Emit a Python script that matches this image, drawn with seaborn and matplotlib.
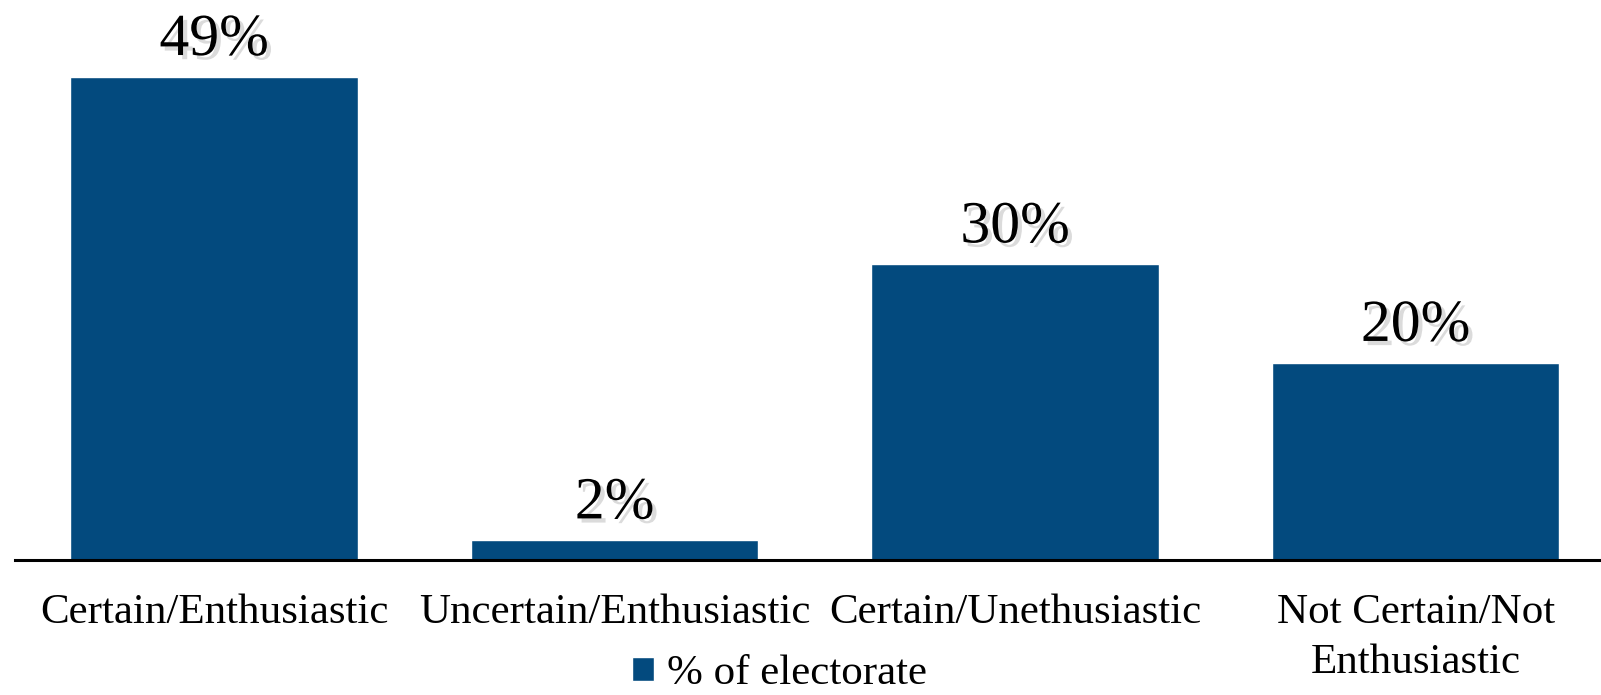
import matplotlib
matplotlib.use("Agg")
import matplotlib.pyplot as plt
import matplotlib.patheffects as pe
import seaborn as sns
import pandas as pd

# datos del grafico
categorias = ["Certain/Enthusiastic", "Uncertain/Enthusiastic",
              "Certain/Unethusiastic", "Not Certain/Not\nEnthusiastic"]
valores = [49, 2, 30, 20]
etiquetas = ["49%", "2%", "30%", "20%"]
serie = "% of electorate"

sns.set_theme(style="white")
plt.rcParams["font.family"] = ["Liberation Serif", "DejaVu Serif"]

df = pd.DataFrame({"cat": categorias, "val": valores})

fig = plt.figure(figsize=(16.01, 6.95), dpi=100)
ax = fig.add_axes([15 / 1601, 135 / 695, 1 - 15 / 1601, 560 / 695])

sns.barplot(data=df, x="cat", y="val", color="#034A7E", saturation=1,
            width=0.717, label=serie, ax=ax)

ax.set_xlim(-0.497, 3.463)
ax.set_ylim(0, 56.8)

# etiquetas con sombra
sombra = [pe.SimplePatchShadow(offset=(3, -3), shadow_rgbFace="#b0b0b0", alpha=0.45),
          pe.Normal()]
for i, (v, t) in enumerate(zip(valores, etiquetas)):
    ax.text(i, v + 0.9, t, ha="center", va="bottom", fontsize=43,
            color="black", path_effects=sombra)

ax.set_xlabel("")
ax.set_ylabel("")
ax.set_yticks([])
ax.tick_params(axis="x", length=0, pad=24, labelsize=31, colors="black")
for lab in ax.get_xticklabels():
    lab.set_linespacing(1.38)

for s in ["top", "right", "left"]:
    ax.spines[s].set_visible(False)
ax.spines["bottom"].set_color("black")
ax.spines["bottom"].set_linewidth(2.2)

leg = ax.legend(loc="center", bbox_to_anchor=(0.487, 0.03),
                bbox_transform=fig.transFigure, frameon=False, fontsize=31,
                handlelength=0.5, handleheight=0.5, handletextpad=0.3,
                borderpad=0)
for t in leg.get_texts():
    t.set_color("black")

fig.savefig("out.png", dpi=100)
